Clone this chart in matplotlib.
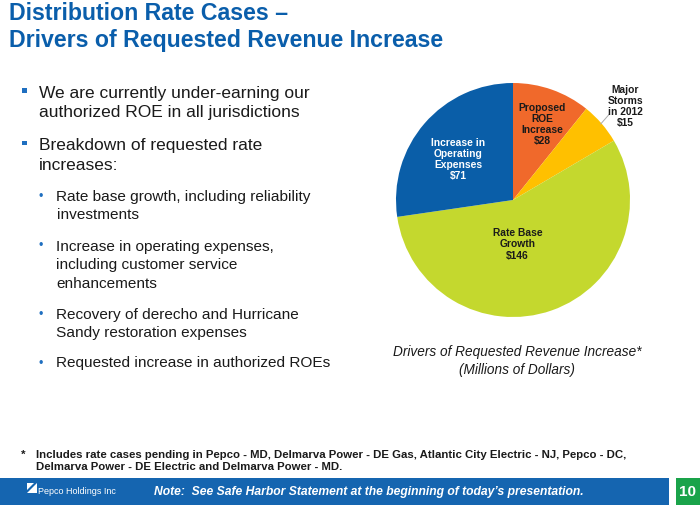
import matplotlib.pyplot as plt
from matplotlib.patches import Rectangle, Polygon

plt.rcParams['font.family'] = ['Liberation Sans', 'DejaVu Sans']

# data
categories = ["Proposed\nROE\nIncrease", "Major\nStorms\nin 2012", "Rate Base\nGrowth", "Increase in\nOperating\nExpenses"]
values = [28, 15, 146, 71]
colors = ["#f0692b", "#ffc000", "#c4d82e", "#0a5ea8"]
label_colors = ["#1a1a1a", "#1a1a1a", "#1a1a1a", "white"]

title_lines = ["Distribution Rate Cases \u2013", "Drivers of Requested Revenue Increase"]
bullets = [
    (0, ["We are currently under-earning our", "authorized ROE in all jurisdictions"]),
    (0, ["Breakdown of requested rate", "increases:"]),
    (1, ["Rate base growth, including reliability", "investments"]),
    (1, ["Increase in operating expenses,", "including customer service", "enhancements"]),
    (1, ["Recovery of derecho and Hurricane", "Sandy restoration expenses"]),
    (1, ["Requested increase in authorized ROEs"]),
]
bullet_baseline = [98, 150, 201, 250.5, 319, 367.5]
footnote = ["Includes rate cases pending in Pepco - MD, Delmarva Power - DE Gas, Atlantic City Electric - NJ, Pepco - DC,",
            "Delmarva Power - DE Electric and Delmarva Power - MD."]

W, H = 700, 505
fig = plt.figure(figsize=(W / 100, H / 100), dpi=100)
fig.patch.set_facecolor("white")


def px(x, y):
    return x / W, 1 - y / H


blue = "#0a5eab"
txt_col = "#1a1a1a"

# title
for i, t in enumerate(title_lines):
    fig.text(*px(9, 20 + i * 27), t, fontsize=16.7, fontweight="bold", color=blue, va="baseline")

# bullets
for (lvl, lines), y0 in zip(bullets, bullet_baseline):
    if lvl == 0:
        fig.patches.append(Rectangle(px(22.5, y0 - 5), 4.5 / W, 4.5 / H, transform=fig.transFigure,
                                     facecolor="#1f6fc0", edgecolor="none"))
        x0, step, fs = 39, 19.5, 12.5
    else:
        fig.text(*px(40.5, y0 - 4), "\u2022", fontsize=9, color="#1f6fc0", ha="center", va="center")
        x0, step, fs = 56.5, 18.5, 11.1
    for j, line in enumerate(lines):
        fig.text(*px(x0, y0 + j * step), line, fontsize=fs, color=txt_col, va="baseline")

# pie
cx, cy, r = 513, 200, 117
ax = fig.add_axes([(cx - r) / W, (H - cy - r) / H, 2 * r / W, 2 * r / H])
wedges, _ = ax.pie(values, colors=colors, startangle=90, counterclock=False,
                   wedgeprops=dict(linewidth=0))
ax.set_xlim(-1, 1)
ax.set_ylim(-1, 1)
ax.set_aspect("equal")

label_pos = [(0.25, 0.645), (0.96, 0.80), (0.04, -0.38), (-0.47, 0.345)]
for cat, v, (lx, ly), lc in zip(categories, values, label_pos, label_colors):
    ax.text(lx, ly, f"{cat}\n${v}", ha="center", va="center", fontsize=7.4,
            fontweight="bold", color=lc, linespacing=1.15, clip_on=False)
ax.plot([0.75, 0.82], [0.65, 0.73], color="#aaaaaa", lw=0.7, clip_on=False)

fig.text(*px(517, 352), "Drivers of Requested Revenue Increase*", fontsize=9.8, style="italic",
         color=txt_col, ha="center", va="center")
fig.text(*px(517, 370), "(Millions of Dollars)", fontsize=9.8, style="italic",
         color=txt_col, ha="center", va="center")

# footnote
fig.text(*px(21, 457.5), "*", fontsize=8.2, fontweight="bold", color=txt_col, va="baseline")
for j, line in enumerate(footnote):
    fig.text(*px(35.5, 457.5 + j * 12.7), line, fontsize=8.2, fontweight="bold", color=txt_col,
             va="baseline")

# footer bar
fig.patches.append(Rectangle(px(0, 505), 669 / W, 27 / H, transform=fig.transFigure,
                             facecolor="#1565b0", edgecolor="none"))
fig.patches.append(Rectangle(px(676, 505), 24 / W, 27 / H, transform=fig.transFigure,
                             facecolor="#1aa34a", edgecolor="none"))
fig.patches.append(Polygon([px(27, 493), px(37, 483), px(37, 493)], closed=True,
                           transform=fig.transFigure, facecolor="white", edgecolor="none"))
fig.patches.append(Polygon([px(27, 483), px(34, 483), px(27, 490)], closed=True,
                           transform=fig.transFigure, facecolor="white", edgecolor="none"))
fig.text(*px(38, 492), "Pepco Holdings Inc", fontsize=6.5, color="white", va="center")
fig.text(*px(154, 492), "Note:  See Safe Harbor Statement at the beginning of today\u2019s presentation.",
         fontsize=8.7, fontweight="bold", style="italic", color="white", va="center")
fig.text(*px(688, 492), "10", fontsize=11, fontweight="bold", color="white", ha="center", va="center")

fig.savefig("out.png", dpi=100)
